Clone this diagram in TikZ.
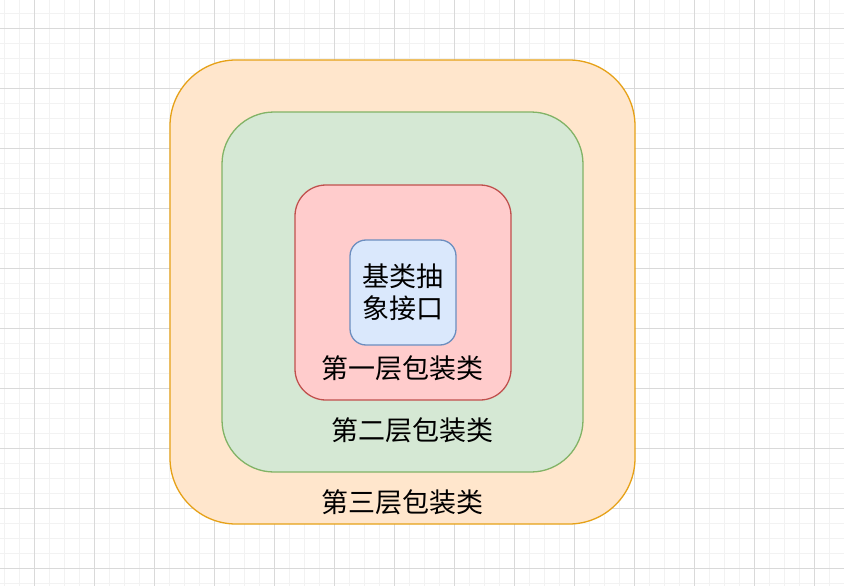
\documentclass[tikz,border=0pt]{standalone}
\usepackage{fontspec}
\newfontfamily\cjk{Noto Sans CJK SC}
\usetikzlibrary{positioning}

\definecolor{orangefill}{HTML}{FFE6CC}
\definecolor{orangeline}{HTML}{E6A117}
\definecolor{greenfill}{HTML}{D5E8D4}
\definecolor{greenline}{HTML}{82B366}
\definecolor{redfill}{HTML}{FFCCCC}
\definecolor{redline}{HTML}{C0504D}
\definecolor{bluefill}{HTML}{DAE8FC}
\definecolor{blueline}{HTML}{6C8EBF}
\definecolor{gridminor}{HTML}{F2F2F2}
\definecolor{gridmajor}{HTML}{D9D9D9}

\tikzset{
    layerbox/.style={rectangle, line width=1.3pt, inner sep=0pt},
    layertext/.style={font=\cjk\fontsize{27}{32}\selectfont, inner sep=0pt, align=center}
}

\begin{document}
\begin{tikzpicture}[x=1pt, y=-1pt]
    \useasboundingbox (0,0) rectangle (844,586);
    \fill[white] (0,0) rectangle (844,586);
    % background grid
    \foreach \x in {4.3,19.3,...,844} \draw[gridminor, line width=0.8pt] (\x,0) -- (\x,586);
    \foreach \y in {13.3,28.3,...,586} \draw[gridminor, line width=0.8pt] (0,\y) -- (844,\y);
    \foreach \x in {34.3,94.3,...,844} \draw[gridmajor, line width=0.8pt] (\x,0) -- (\x,586);
    \foreach \y in {28.3,88.3,...,586} \draw[gridmajor, line width=0.8pt] (0,\y) -- (844,\y);

    % nested layers
    \node[layerbox, draw=orangeline, fill=orangefill, rounded corners=66pt,
          minimum width=465pt, minimum height=464pt] (third) at (402.5,292) {};
    \node[layerbox, draw=greenline, fill=greenfill, rounded corners=52pt,
          minimum width=361pt, minimum height=360pt] (second) at (402.5,292) {};
    \node[layerbox, draw=redline, fill=redfill, rounded corners=31pt,
          minimum width=216pt, minimum height=215pt] (first) at (403,292.5) {};
    \node[layerbox, draw=blueline, fill=bluefill, rounded corners=16pt,
          minimum width=106pt, minimum height=105pt] (base) at (403,292.5) {};

    % labels
    \node[layertext] (baselbl) at (base) {基类抽\\象接口};
    \node[layertext] (firstlbl) at (402,368) {第一层包装类};
    \node[layertext] (secondlbl) at (412,430) {第二层包装类};
    \node[layertext] (thirdlbl) at (402,502) {第三层包装类};
\end{tikzpicture}
\end{document}
